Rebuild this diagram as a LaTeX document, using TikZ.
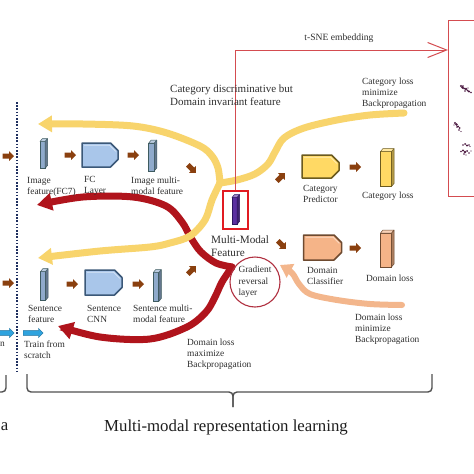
\documentclass[tikz,border=0pt]{standalone}
\usepackage{fontspec}
\setmainfont{Liberation Serif}
\usetikzlibrary{arrows.meta,shapes.arrows}

\definecolor{txt}{HTML}{2F2F2F}
\definecolor{titletxt}{HTML}{1E1E1E}
\definecolor{yflowc}{HTML}{F8D46C}
\definecolor{rflowc}{HTML}{B0141C}
\definecolor{pflowc}{HTML}{F3B68C}
\definecolor{brownarr}{HTML}{8A400F}
\definecolor{bluearr}{HTML}{2FA3DE}
\definecolor{bluearrd}{HTML}{1B6E9C}
\definecolor{barfill}{HTML}{8FAACB}
\definecolor{bardraw}{HTML}{3E5B60}
\definecolor{fcfill}{HTML}{A9C6EA}
\definecolor{fcdraw}{HTML}{3B5878}
\definecolor{catfill}{HTML}{FFD964}
\definecolor{catdraw}{HTML}{6B5A1E}
\definecolor{domfill}{HTML}{F5B488}
\definecolor{domdraw}{HTML}{6E4A30}
\definecolor{purplebar}{HTML}{5A30A0}
\definecolor{purpledraw}{HTML}{2B1560}
\definecolor{boxred}{HTML}{E11B22}
\definecolor{tsnered}{HTML}{D44C50}
\definecolor{circred}{HTML}{B03040}
\definecolor{dotnavy}{HTML}{1F2F5F}
\definecolor{bracec}{HTML}{505050}
\definecolor{dotc}{HTML}{4A1840}

\newcommand{\threedbar}[7]{%
  \node[draw=#7, fill=#6, line width=0.7pt, minimum width=#4pt, minimum height=#5pt, inner sep=0pt, outer sep=0pt] (#1) at (#2,#3) {};
  \path[fill=#6!70!black, draw=#7, line width=0.5pt, line join=round] (#1.north east) -- ++(2.5,-3) -- ([shift={(2.5,-3)}]#1.south east) -- (#1.south east) -- cycle;
  \path[fill=#6!60!white, draw=#7, line width=0.5pt, line join=round] (#1.north west) -- ++(2.5,-3) -- ([shift={(2.5,-3)}]#1.north east) -- (#1.north east) -- cycle;
}
% chamfered block: name, cx, cy, w, h, fill, draw
\newcommand{\chamfblock}[7]{%
  \node[minimum width=#4pt, minimum height=#5pt, inner sep=0pt, outer sep=0pt] (#1) at (#2,#3) {};
  \path[fill=#6, draw=#7, line width=1.5pt, line join=round]
    (#1.south west) -- (#1.north west) -- ([xshift=-7.5pt]#1.north east) -- ([yshift=-7.5pt]#1.north east)
    -- ([yshift=7.5pt]#1.south east) -- ([xshift=-7.5pt]#1.south east) -- cycle;
  \path[draw=#6!45!white, line width=0.8pt, line join=round]
    ([shift={(2.2pt,-2.2pt)}]#1.north west) -- ([shift={(-8.4pt,-2.2pt)}]#1.north east) -- ([shift={(-2.2pt,-8.4pt)}]#1.north east);
}

\tikzset{
  lbl/.style={align=left, inner sep=0pt, anchor=west, text=txt, font=\fontsize{9.4}{11}\selectfont},
  barrow/.style={single arrow, fill=brownarr, draw=none, minimum height=11.5pt, inner sep=2.3pt, single arrow head extend=2.4pt},
  bluearrow/.style={single arrow, fill=bluearr, draw=bluearrd, line width=0.4pt, minimum height=20pt, inner sep=2.2pt, single arrow head extend=2.3pt},
  yflow/.style={draw=yflowc, line width=7pt, line cap=round},
  rflow/.style={draw=rflowc, line width=7pt, line cap=round},
  pflow/.style={draw=pflowc, line width=6pt, line cap=round},
  bracestyle/.style={draw=bracec, line width=1.4pt, rounded corners=4pt},
}

\begin{document}
\begin{tikzpicture}[x=1pt,y=-1pt]
\useasboundingbox (0,0) rectangle (474,474);
\clip (0,0) rectangle (474,474);
\fill[white] (0,0) rectangle (474,474);

% dotted separator
\draw[dotnavy, line width=1.6pt, dash pattern=on 1.6pt off 1.6pt] (17,102) -- (17,372);

% braces
\draw[bracestyle] (6,375) -- (6,392) -- (-20,392);
\draw[bracestyle] (27,374) -- (27,392) -- (233,392) -- (233,407);
\draw[bracestyle] (432,374) -- (432,392) -- (233,392) -- (233,407);

% t-SNE box
\node[draw=tsnered, line width=1pt, minimum width=60pt, minimum height=176pt, anchor=north west, inner sep=0pt] (tsne) at (448,20) {};
\foreach \p/\r in {(461,86)/1.1,(462.5,87.5)/1.3,(464,88.5)/1.0,(466,89)/1.4,(467.5,90.5)/1.0,(469,91.5)/1.2,(465,91)/0.8,(463,86)/0.8,(471,92.5)/0.9,(468,88)/0.7,
                (455,123)/1.1,(456.5,124.5)/1.3,(458,126.5)/1.1,(459.5,128)/1.0,(459,130)/0.9,(457,127)/0.8,(461,131.5)/0.7,(454,125)/0.7,
                (463,145)/0.9,(465,144)/1.0,(467,145.5)/1.2,(469,145)/0.8,(470,146.5)/0.7,
                (461,151.5)/0.9,(463,150.5)/1.1,(465,152)/1.3,(467,151)/1.0,(469,153)/0.9,(464,154)/0.8,(466,155)/0.7,(471,151)/0.7}
  \fill[dotc] \p circle (\r);

% flows (red first, then yellow on top)
\coordinate (grlL) at (232,267);
\coordinate (redTopEnd) at (37,205);
\coordinate (redBotEnd) at (58,326);
\draw[rflow, -{Triangle[length=15pt,width=17pt]}] plot[smooth, tension=0.55] coordinates {(grlL) (216,263) (201,252) (191,238) (182,222) (166,206) (133,197) (83,197) (redTopEnd)};
\draw[rflow, -{Triangle[length=15pt,width=17pt]}] plot[smooth, tension=0.55] coordinates {(grlL) (222,282) (215,297) (206,312) (187,327) (150,339) (100,337) (redBotEnd)};

\coordinate (catbpStart) at (404,113);
\coordinate (yj) at (220,183);
\coordinate (yTopEnd) at (38,124);
\coordinate (yBotEnd) at (38,258);
\draw[yflow] plot[smooth, tension=0.55] coordinates {(catbpStart) (370,115) (337,120) (304,128) (284,138) (275,152) (268,164) (255,174) (237,180) (yj)};
\draw[yflow, -{Triangle[length=14pt,width=16pt]}] plot[smooth, tension=0.55] coordinates {(yj) (218,168) (212,156) (200,146) (167,133) (133,126) (83,124) (yTopEnd)};
\draw[yflow, -{Triangle[length=14pt,width=16pt]}] plot[smooth, tension=0.55] coordinates {(yj) (212,200) (205,220) (190,236) (170,243) (150,247) (100,251) (yBotEnd)};

\coordinate (dombpStart) at (402,305);
\coordinate (grlR) at (280,265);
\draw[pflow, -{Triangle[length=12pt,width=15pt]}] plot[smooth, tension=0.55] coordinates {(dombpStart) (370,304) (337,300) (310,294) (299,284) (292,273) (grlR)};

% brown arrows
\node[barrow] (ba1) at (7,156) {};
\node[barrow] (ba2) at (69,155) {};
\node[barrow] (ba3) at (132,155) {};
\node[barrow, rotate=-45] (ba4) at (191,168) {};
\node[barrow] (ba5) at (7,283) {};
\node[barrow] (ba6) at (71,284) {};
\node[barrow] (ba7) at (137,284) {};
\node[barrow, rotate=45] (ba8) at (191,271) {};
\node[barrow, rotate=45] (ba9) at (280,178) {};
\node[barrow] (ba10) at (354,167) {};
\node[barrow, rotate=-45] (ba11) at (281,244) {};
\node[barrow] (ba12) at (354,248) {};

% blue arrows
\node[bluearrow] (bl1) at (3,333) {};
\node[bluearrow] (bl2) at (32,333) {};

% feature bars
\threedbar{imgf}{42.5}{155}{5}{27}{barfill}{bardraw}
\threedbar{imgmm}{151.5}{157}{5.5}{28}{barfill}{bardraw}
\threedbar{sentf}{43}{286}{5}{29}{barfill}{bardraw}
\threedbar{sentmm}{156}{287}{5.5}{29}{barfill}{bardraw}
\threedbar{catloss}{386}{169}{11}{35}{catfill}{catdraw}
\threedbar{domloss}{386}{250}{11}{34}{domfill}{domdraw}

% processing blocks
\chamfblock{fc}{100}{155}{36}{24}{fcfill}{fcdraw}
\chamfblock{scnn}{103.5}{282.5}{37}{25}{fcfill}{fcdraw}
\chamfblock{catpred}{320.5}{166.5}{37}{23}{catfill}{catdraw}
\chamfblock{domcls}{322.5}{247.5}{38}{25}{domfill}{domdraw}

% multi-modal feature box
\node[draw=boxred, line width=2pt, minimum width=25pt, minimum height=38pt, inner sep=0pt] (mmf) at (235.5,209.5) {};
\threedbar{purple}{234.5}{211}{5}{27}{purplebar}{purpledraw}
\coordinate (tsneIn) at (448,50);
\draw[tsnered, line width=1pt, -{Straight Barb[length=19pt,width=15pt]}] (mmf.north) |- (tsneIn);

% gradient reversal layer
\node[circle, draw=circred, line width=1.1pt, minimum size=50pt, inner sep=0pt, align=left, text=txt, font=\fontsize{9.4}{11.3}\selectfont] (grl) at (255,282) {Gradient\\reversal\\layer};

% labels
\node[lbl] (limgf) at (27,186.5) {Image\\feature(FC7)};
\node[lbl] (lfc) at (84,185.5) {FC\\Layer};
\node[lbl] (limgmm) at (131,186) {Image multi-\\modal feature};
\node[lbl] (lsentf) at (28,314) {Sentence\\feature};
\node[lbl] (lscnn) at (87,314) {Sentence\\CNN};
\node[lbl] (lsentmm) at (133,314) {Sentence multi-\\modal feature};
\node[lbl] (lcatpred) at (303,194) {Category\\Predictor};
\node[lbl] (lcatloss) at (362,196) {Category loss};
\node[lbl] (ldomcls) at (307,275.5) {Domain\\Classifier};
\node[lbl] (ldomloss) at (366,278) {Domain loss};
\node[lbl] (lcatbp) at (362,93) {Category loss\\minimize\\Backpropagation};
\node[lbl] (ldombp) at (355,329) {Domain loss\\minimize\\Backpropagation};
\node[lbl] (ldommax) at (187,354) {Domain loss\\maximize\\Backpropagation};
\node[lbl] (ltrain) at (24,349.5) {Train from\\scratch};
\node[lbl, anchor=east] (ln) at (5,344) {n};
\node[lbl, font=\fontsize{11.2}{12.8}\selectfont] (lmmf) at (211,246.5) {Multi-Modal\\Feature};
\node[lbl, font=\fontsize{11}{12.5}\selectfont] (lcatdisc) at (170,95) {Category discriminative but\\Domain invariant feature};
\node[inner sep=0pt, text=txt, font=\fontsize{9.6}{11}\selectfont] (ltsne) at (339,38) {t-SNE embedding};
\node[inner sep=0pt, text=titletxt, font=\fontsize{16.8}{19}\selectfont] (ltitle) at (226,427) {Multi-modal representation learning};
\node[inner sep=0pt, anchor=east, text=titletxt, font=\fontsize{16.8}{19}\selectfont] (la) at (8.5,427) {a};
\end{tikzpicture}
\end{document}
